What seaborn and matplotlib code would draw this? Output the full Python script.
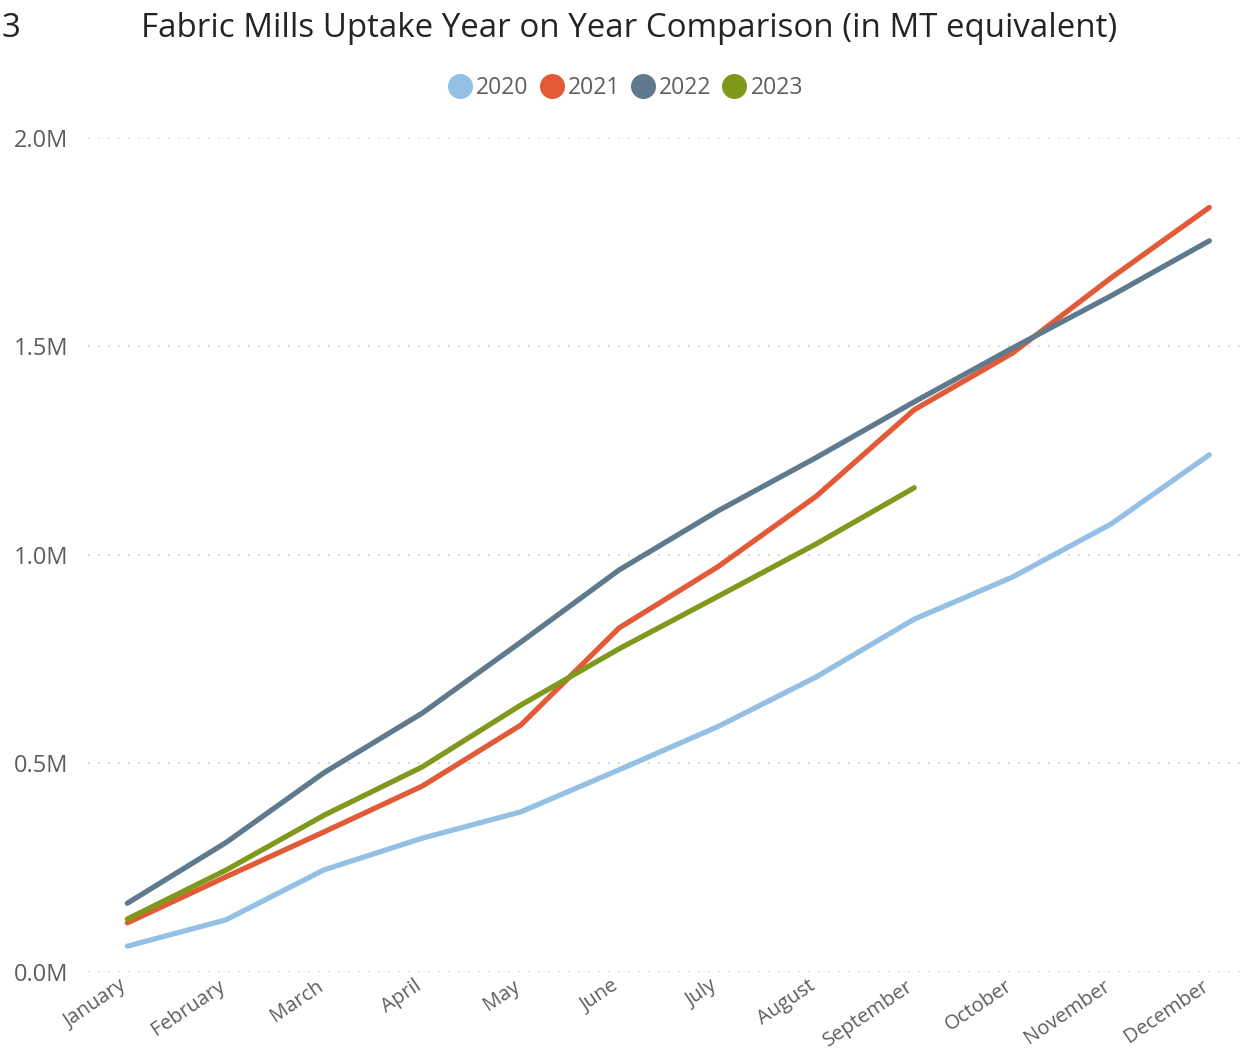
import numpy as np
import pandas as pd
import seaborn as sns
import matplotlib.pyplot as plt
import matplotlib.transforms as mtransforms
from matplotlib.lines import Line2D
from matplotlib.ticker import FuncFormatter, MultipleLocator


# Cumulative uptake, millions of MT equivalent
MONTHS = ["January", "February", "March", "April", "May", "June",
          "July", "August", "September", "October", "November", "December"]
UPTAKE_2020 = [0.062, 0.125, 0.245, 0.321, 0.384, 0.485, 0.588, 0.707, 0.846, 0.947, 1.074, 1.240]
UPTAKE_2021 = [0.118, 0.228, 0.336, 0.446, 0.592, 0.825, 0.971, 1.140, 1.348, 1.484, 1.664, 1.833]
UPTAKE_2022 = [0.165, 0.310, 0.478, 0.621, 0.791, 0.964, 1.105, 1.233, 1.367, 1.496, 1.621, 1.753]
UPTAKE_2023 = [0.127, 0.244, 0.376, 0.492, 0.640, 0.775, 0.900, 1.026, 1.161, np.nan, np.nan, np.nan]
YEARS = ["2020", "2021", "2022", "2023"]
COLORS = ["#95C0E5", "#E25A38", "#5F7A8D", "#7E991B"]

TEXT_GREY = "#605E5C"
FONT = ["Open Sans", "DejaVu Sans"]


def build_frame():
    rows = []
    for year, values in zip(YEARS, [UPTAKE_2020, UPTAKE_2021, UPTAKE_2022, UPTAKE_2023]):
        for month, v in zip(MONTHS, values):
            rows.append({"month": month, "year": year, "uptake": v})
    return pd.DataFrame(rows)


def plot_uptake(df):
    sns.set_theme(style="white")
    plt.rcParams['font.family'] = FONT

    fig = plt.figure(figsize=(12.43, 10.56), dpi=100)
    ax = fig.add_axes([0.0708, 0.0795, 0.929, 0.790])

    sns.lineplot(data=df, x="month", y="uptake", hue="year", hue_order=YEARS,
                 palette=COLORS, linewidth=3.8, legend=False, ax=ax,
                 solid_capstyle="round")

    ax.set_xlim(-0.4, 11.34)
    ax.set_ylim(0, 2.0)
    ax.yaxis.set_major_locator(MultipleLocator(0.5))
    ax.yaxis.set_major_formatter(FuncFormatter(lambda v, _: f"{v:.1f}M"))

    # dotted horizontal grid only
    ax.grid(axis="y", color="#C8C8C8", linestyle=(0, (1, 5)), linewidth=1.2)
    ax.grid(axis="x", visible=False)
    ax.set_axisbelow(True)
    sns.despine(ax=ax, left=True, bottom=True, right=True, top=True)

    ax.set_xlabel("")
    ax.set_ylabel("")
    ax.tick_params(axis="y", length=0, pad=14, labelsize=17, labelcolor=TEXT_GREY)
    ax.tick_params(axis="x", length=0, pad=3, labelsize=14.5, labelcolor=TEXT_GREY)
    shift = mtransforms.ScaledTranslation(-8 / 100, 0, fig.dpi_scale_trans)
    for lbl in ax.get_xticklabels():
        lbl.set_rotation(34)
        lbl.set_ha("right")
        lbl.set_rotation_mode("anchor")
        lbl.set_transform(lbl.get_transform() + shift)

    # title and legend
    fig.text(0.506, 0.973, "Fabric Mills Uptake Year on Year Comparison (in MT equivalent)",
             ha="center", va="center", fontsize=23.8, color="#252423")
    fig.text(0.001, 0.973, "3", ha="left", va="center", fontsize=23.8, color="#252423")

    handles = [Line2D([0], [0], marker="o", linestyle="", markersize=17,
                      markerfacecolor=c, markeredgecolor=c) for c in COLORS]
    fig.legend(handles, YEARS, loc="center", bbox_to_anchor=(0.503, 0.917), ncol=4,
               frameon=False, fontsize=16.5, labelcolor=TEXT_GREY,
               handletextpad=0.15, columnspacing=0.45, handlelength=1.1)

    plt.savefig("out.png", dpi=100)
    plt.close()


if __name__ == "__main__":
    plot_uptake(build_frame())
